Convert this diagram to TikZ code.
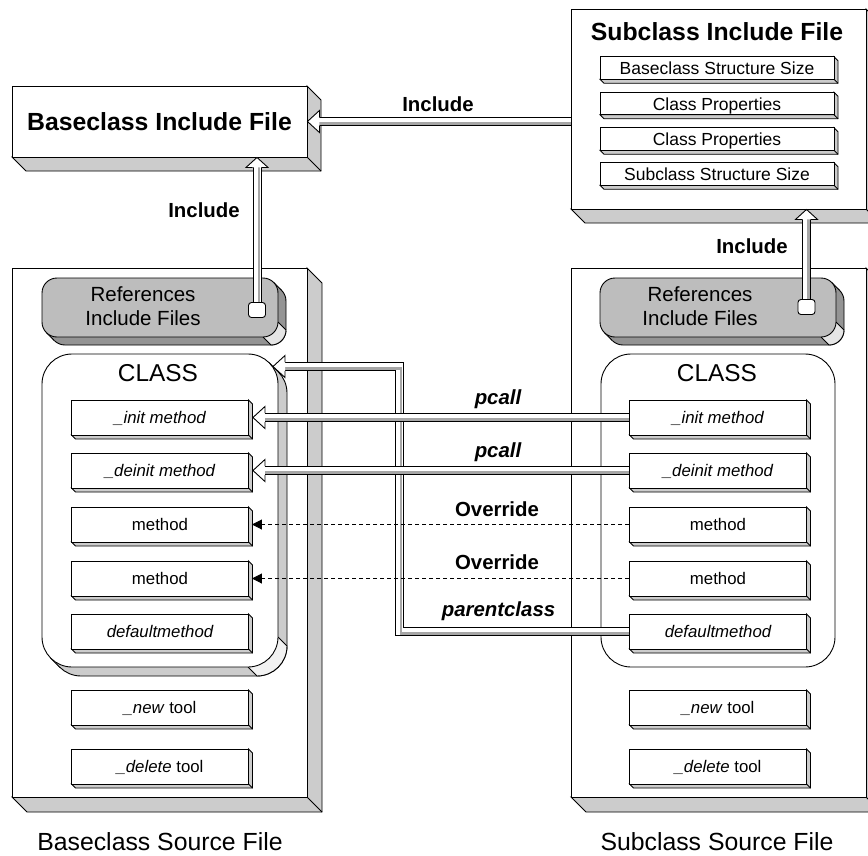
\documentclass[tikz,border=0pt]{standalone}
\usepackage{fontspec}
\setmainfont{Liberation Sans}
\usetikzlibrary{calc,arrows.meta}

\colorlet{sidegray}{black!20}
\colorlet{refface}{black!26}
\colorlet{refside}{black!42}
\colorlet{refcorner}{black!10}
\colorlet{classcorner}{black!5}
\colorlet{stripe}{black!35}

\tikzset{
  outline/.style={line width=0.9pt},
  titlefont/.style={font=\fontsize{24.8}{28}\selectfont\bfseries},
  capfont/.style={font=\fontsize{24.8}{28}\selectfont},
  classfont/.style={font=\fontsize{24.4}{28}\selectfont},
  reffont/.style={font=\fontsize{20.5}{24}\selectfont, align=center, inner sep=0pt},
  itemfont/.style={font=\fontsize{17.5}{20}\selectfont, text height=13.5pt, text depth=0pt},
  methfont/.style={font=\fontsize{16.8}{20}\selectfont, text height=11.5pt, text depth=0pt},
  linklabel/.style={font=\fontsize{20.4}{24}\selectfont\bfseries, inner sep=0pt},
  shaftout/.style={line width=9pt, draw=black},
  shaftin/.style={line width=7pt, draw=white},
  shaftshade/.style={line width=2.6pt, draw=stripe},
  overridelink/.style={outline, dash pattern=on 4pt off 3pt, -{Triangle[length=10pt,width=10pt]}},
}

% box with a square-cornered extrusion: name, cx, cy, w, h, depth, style, text
\newcommand{\solidnode}[8]{%
  \filldraw[outline, fill=sidegray] (#2+#4/2,#3-#5/2) -- ++(#6,#6)
     -- (#2+#4/2+#6,#3+#5/2+#6) -- (#2-#4/2+#6,#3+#5/2+#6)
     -- (#2-#4/2,#3+#5/2) -- (#2+#4/2,#3+#5/2) -- cycle;
  \draw[outline] (#2+#4/2,#3+#5/2) -- ++(#6,#6);
  \node[#7, draw, outline, fill=white, minimum width=#4pt, minimum height=#5pt, inner sep=0pt] (#1) at (#2,#3) {#8};
}

% extrusion behind a rounded box: cx, cy, w, h, radius, depth, side colour, corner colour
\newcommand{\roundslab}[8]{%
  \pgfmathsetmacro{\rxa}{#1-#3/2}\pgfmathsetmacro{\rxb}{#1+#3/2}%
  \pgfmathsetmacro{\rya}{#2-#4/2}\pgfmathsetmacro{\ryb}{#2+#4/2}%
  \pgfmathsetmacro{\ra}{0.2929*#5}%
  \filldraw[outline, fill=#7, rounded corners=#5pt] (\rxa+#6,\rya+#6) rectangle (\rxb+#6,\ryb+#6);
  \begin{scope}
    \clip (\rxb-#5,\ryb) -- ++(60,60) -- (\rxb+60,\ryb-#5+60) -- (\rxb,\ryb-#5) -- cycle;
    \filldraw[outline, fill=#8, rounded corners=#5pt] (\rxa+#6,\rya+#6) rectangle (\rxb+#6,\ryb+#6);
  \end{scope}
  \draw[outline] (\rxb-#5,\ryb) -- ++(#6,#6) (\rxb,\ryb-#5) -- ++(#6,#6);
  \fill[#7] (\rxb-\ra,\rya+\ra) -- ++(#6,#6) -- (\rxa+\ra+#6,\ryb-\ra+#6) -- (\rxa+\ra,\ryb-\ra) -- cycle;
  \draw[outline] (\rxb-\ra,\rya+\ra) -- ++(#6,#6) (\rxa+\ra,\ryb-\ra) -- ++(#6,#6);
}

% hollow arrow heads at a named tip
\newcommand{\headleft}[1]{%
  \fill[white] (#1) -- ++(12,-11) -- ++(0,22) -- cycle;
  \draw[outline, line join=miter] ($(#1)+(12,-4.5)$) -- ++(0,-6.5) -- (#1) -- ++(12,11) -- ++(0,-6.5);
}
\newcommand{\headup}[1]{%
  \fill[white] (#1) -- ++(-11,10) -- ++(22,0) -- cycle;
  \draw[outline, line join=miter] ($(#1)+(-4.5,10)$) -- ++(-6.5,0) -- (#1) -- ++(11,10) -- ++(-6.5,0);
}

\begin{document}
\begin{tikzpicture}[x=1pt,y=-1pt]
\useasboundingbox (0,0) rectangle (868,855);
\fill[white] (0,0) rectangle (868,855);

% include files
\solidnode{bfile}{159.5}{121.5}{295}{71}{14}{titlefont}{Baseclass Include File}
\solidnode{sfile}{718.5}{109}{295}{200}{14}{}{}
\node[titlefont] (stitle) at (717,32) {Subclass Include File};
\solidnode{sbase}{717}{68}{234}{22.5}{4}{itemfont}{Baseclass Structure Size}
\solidnode{sprop1}{717}{103.5}{234}{22.5}{4}{itemfont}{Class Properties}
\solidnode{sprop2}{717}{139}{234}{22.5}{4}{itemfont}{Class Properties}
\solidnode{ssize}{717}{174}{234}{22.5}{4}{itemfont}{Subclass Structure Size}

% source files
\solidnode{lsrc}{159.5}{532.5}{295}{529}{15}{}{}
\solidnode{rsrc}{718.5}{532.5}{295}{529}{15}{}{}
\node[capfont] (lcap) at (160,842) {Baseclass Source File};
\node[capfont] (rcap) at (717,842) {Subclass Source File};

% references to include files
\roundslab{160}{307.5}{236}{59}{15}{8}{refside}{refcorner}
\node[draw, outline, fill=refface, rounded corners=15pt, minimum width=236pt, minimum height=59pt] (lrefs) at (160,307.5) {};
\node[reffont] (lreftext) at (143,306.5) {References\\Include Files};
\roundslab{718}{307.5}{236}{59}{15}{8}{refside}{refcorner}
\node[draw, outline, fill=refface, rounded corners=15pt, minimum width=236pt, minimum height=59pt] (rrefs) at (718,307.5) {};
\node[reffont] (rreftext) at (700,306.5) {References\\Include Files};

% class containers
\roundslab{160}{510.5}{236}{313}{30}{9}{sidegray}{classcorner}
\node[draw, outline, fill=white, rounded corners=30pt, minimum width=236pt, minimum height=313pt] (lclass) at (160,510.5) {};
\node[classfont] (lclasstitle) at (158,373) {CLASS};
\node[draw, outline, fill=white, rounded corners=30pt, minimum width=234pt, minimum height=313pt] (rclass) at (718,510.5) {};
\node[classfont] (rclasstitle) at (717,373) {CLASS};

% methods and tools, base class
\solidnode{linit}{160}{417.5}{177}{35}{4}{methfont}{\itshape \_init method}
\solidnode{ldeinit}{160}{470.5}{177}{35}{4}{methfont}{\itshape \_deinit method}
\solidnode{lmeth1}{160}{524.5}{177}{35}{4}{methfont}{method}
\solidnode{lmeth2}{160}{578.5}{177}{35}{4}{methfont}{method}
\solidnode{ldef}{160}{631.5}{177}{35}{4}{methfont}{\itshape defaultmethod}
\solidnode{lnew}{160}{707.5}{177}{35}{4}{methfont}{\textit{\_new} tool}
\solidnode{ldel}{160}{766.5}{177}{35}{4}{methfont}{\textit{\_delete} tool}

% methods and tools, subclass
\solidnode{rinit}{718}{417.5}{177}{35}{4}{methfont}{\itshape \_init method}
\solidnode{rdeinit}{718}{470.5}{177}{35}{4}{methfont}{\itshape \_deinit method}
\solidnode{rmeth1}{718}{524.5}{177}{35}{4}{methfont}{method}
\solidnode{rmeth2}{718}{578.5}{177}{35}{4}{methfont}{method}
\solidnode{rdef}{718}{631.5}{177}{35}{4}{methfont}{\itshape defaultmethod}
\solidnode{rnew}{718}{707.5}{177}{35}{4}{methfont}{\textit{\_new} tool}
\solidnode{rdel}{718}{766.5}{177}{35}{4}{methfont}{\textit{\_delete} tool}

% include links
\node[draw, outline, fill=white, rounded corners=3pt, minimum width=17pt, minimum height=15pt, inner sep=0pt] (lsq) at (257,310) {};
\node[draw, outline, fill=white, rounded corners=3pt, minimum width=17pt, minimum height=15pt, inner sep=0pt] (rsq) at (806.5,307) {};

\coordinate (tbl) at (lsq.north |- bfile.south);
\draw[shaftout] (lsq.north) -- ($(tbl)+(0,10)$);
\draw[shaftin] (lsq.north) -- ($(tbl)+(0,10)$);
\draw[shaftshade] ($(lsq.north)+(1.9,0)$) -- ($(tbl)+(1.9,10)$);
\headup{tbl}

\coordinate (tsr) at (rsq.north |- sfile.south);
\draw[shaftout] (rsq.north) -- ($(tsr)+(0,10)$);
\draw[shaftin] (rsq.north) -- ($(tsr)+(0,10)$);
\draw[shaftshade] ($(rsq.north)+(1.9,0)$) -- ($(tsr)+(1.9,10)$);
\headup{tsr}

\coordinate (ttop) at (bfile.east);
\draw[shaftout] (sfile.west |- ttop) -- ($(ttop)+(12,0)$);
\draw[shaftin] (sfile.west |- ttop) -- ($(ttop)+(12,0)$);
\draw[shaftshade] ($(sfile.west |- ttop)+(0,1.9)$) -- ($(ttop)+(12,1.9)$);
\headleft{ttop}

\node[linklabel] (incl1) at (204,210) {Include};
\node[linklabel] (incl2) at (438,104) {Include};
\node[linklabel] (incl3) at (752,246) {Include};

% parentclass link
\coordinate (pctip) at (273,366.5);
\coordinate (pcturn) at (399,366.5);
\draw[shaftout] (rdef.west) -- (rdef.west -| pcturn) -- (pcturn) -- ($(pctip)+(12,0)$);
\draw[shaftin] (rdef.west) -- (rdef.west -| pcturn) -- (pcturn) -- ($(pctip)+(12,0)$);
\draw[shaftshade] ($(rdef.west)+(0,1.9)$) -- ($(rdef.west -| pcturn)+(1.9,1.9)$) -- ($(pcturn)+(1.9,1.9)$) -- ($(pctip)+(12,1.9)$);
\headleft{pctip}
\node[linklabel] (lblparent) at (498.5,611.5) {\itshape parentclass};

% pcall links
\coordinate (tinit) at ($(linit.east)+(4,0)$);
\draw[shaftout] (rinit.west) -- ($(tinit)+(12,0)$);
\draw[shaftin] (rinit.west) -- ($(tinit)+(12,0)$);
\draw[shaftshade] ($(rinit.west)+(0,1.9)$) -- ($(tinit)+(12,1.9)$);
\headleft{tinit}
\node[linklabel] (lblpcall1) at (498,399.5) {\itshape pcall};

\coordinate (tdeinit) at ($(ldeinit.east)+(4,0)$);
\draw[shaftout] (rdeinit.west) -- ($(tdeinit)+(12,0)$);
\draw[shaftin] (rdeinit.west) -- ($(tdeinit)+(12,0)$);
\draw[shaftshade] ($(rdeinit.west)+(0,1.9)$) -- ($(tdeinit)+(12,1.9)$);
\headleft{tdeinit}
\node[linklabel] (lblpcall2) at (498,452.5) {\itshape pcall};

% override links
\draw[overridelink] (rmeth1.west) -- ($(lmeth1.east)+(3,0)$);
\node[linklabel] (lblover1) at (497,509.5) {Override};
\draw[overridelink] (rmeth2.west) -- ($(lmeth2.east)+(3,0)$);
\node[linklabel] (lblover2) at (497,562.5) {Override};

\end{tikzpicture}
\end{document}
